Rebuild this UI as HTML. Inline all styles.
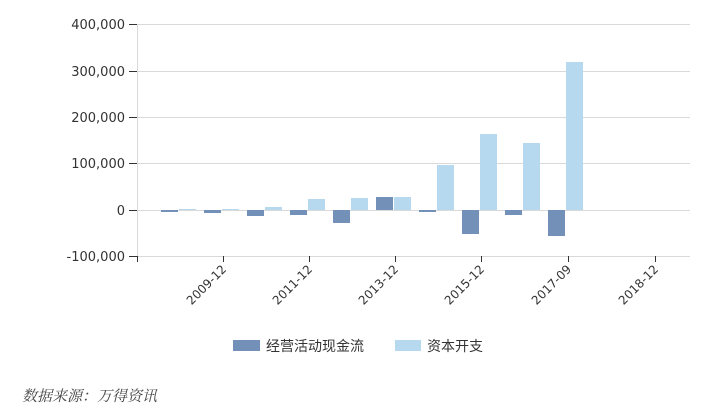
<!DOCTYPE html>
<html><head><meta charset="utf-8"><style>
html,body{margin:0;padding:0;background:#fff;}
svg{display:block;}
</style></head><body>
<svg width="720" height="416" viewBox="0 0 720 416" xmlns="http://www.w3.org/2000/svg">
<g stroke="#d9d9d9" stroke-width="1">
<line x1="137" y1="24.5" x2="690" y2="24.5"/>
<line x1="137" y1="71.5" x2="690" y2="71.5"/>
<line x1="137" y1="117.5" x2="690" y2="117.5"/>
<line x1="137" y1="163.5" x2="690" y2="163.5"/>
<line x1="137" y1="210.5" x2="690" y2="210.5"/>
<line x1="137" y1="256.5" x2="690" y2="256.5"/>
<line x1="137.5" y1="24" x2="137.5" y2="257"/>
</g>
<g stroke="#333" stroke-width="1">
<line x1="129" y1="24.5" x2="137" y2="24.5"/>
<line x1="129" y1="71.5" x2="137" y2="71.5"/>
<line x1="129" y1="117.5" x2="137" y2="117.5"/>
<line x1="129" y1="163.5" x2="137" y2="163.5"/>
<line x1="129" y1="210.5" x2="137" y2="210.5"/>
<line x1="129" y1="256.5" x2="137" y2="256.5"/>
<line x1="137.5" y1="256" x2="137.5" y2="262"/>
<line x1="223.5" y1="256" x2="223.5" y2="262"/>
<line x1="309.5" y1="256" x2="309.5" y2="262"/>
<line x1="395.5" y1="256" x2="395.5" y2="262"/>
<line x1="481.5" y1="256" x2="481.5" y2="262"/>
<line x1="568.5" y1="256" x2="568.5" y2="262"/>
<line x1="655.5" y1="256" x2="655.5" y2="262"/>
</g>
<g font-family="'DejaVu Sans','Liberation Sans',sans-serif" font-size="13" fill="#333" text-anchor="end">
<text x="125" y="29">400,000</text>
<text x="125" y="76">300,000</text>
<text x="125" y="122">200,000</text>
<text x="125" y="168">100,000</text>
<text x="125" y="215">0</text>
<text x="125" y="261">-100,000</text>
</g>
<g font-family="'DejaVu Sans','Liberation Sans',sans-serif" font-size="12" fill="#333" text-anchor="end">
<text transform="translate(227,270) rotate(-45)">2009-12</text>
<text transform="translate(313,270) rotate(-45)">2011-12</text>
<text transform="translate(399,270) rotate(-45)">2013-12</text>
<text transform="translate(485,270) rotate(-45)">2015-12</text>
<text transform="translate(572,270) rotate(-45)">2017-09</text>
<text transform="translate(659,270) rotate(-45)">2018-12</text>
</g>
<g fill="#7390b8">
<rect x="161" y="210" width="17" height="2"/>
<rect x="204" y="210" width="17" height="3"/>
<rect x="247" y="210" width="17" height="6"/>
<rect x="290" y="210" width="17" height="5"/>
<rect x="333" y="210" width="17" height="13"/>
<rect x="376" y="197" width="17" height="13"/>
<rect x="419" y="210" width="17" height="2"/>
<rect x="462" y="210" width="17" height="24"/>
<rect x="505" y="210" width="17" height="5"/>
<rect x="548" y="210" width="17" height="26"/>
</g>
<g fill="#b6d9ef">
<rect x="179" y="209" width="17" height="1"/>
<rect x="222" y="209" width="17" height="1"/>
<rect x="265" y="207" width="17" height="3"/>
<rect x="308" y="199" width="17" height="11"/>
<rect x="351" y="198" width="17" height="12"/>
<rect x="394" y="197" width="17" height="13"/>
<rect x="437" y="165" width="17" height="45"/>
<rect x="480" y="134" width="17" height="76"/>
<rect x="523" y="143" width="17" height="67"/>
<rect x="566" y="62" width="17" height="148"/>
</g>
<rect x="233" y="340" width="27" height="11" fill="#7390b8"/>
<text x="266" y="351" font-family="'Liberation Sans','Noto Sans CJK SC',sans-serif" font-size="14" fill="#333">经营活动现金流</text>
<rect x="395" y="340" width="26" height="11" fill="#b6d9ef"/>
<text x="427" y="351" font-family="'Liberation Sans','Noto Sans CJK SC',sans-serif" font-size="14" fill="#333">资本开支</text>
<text x="22" y="401" font-family="'Liberation Serif','Noto Serif CJK SC',serif" font-size="15" font-style="italic" fill="#444" transform="skewX(0)">数据来源：万得资讯</text>
</svg>
</body></html>
